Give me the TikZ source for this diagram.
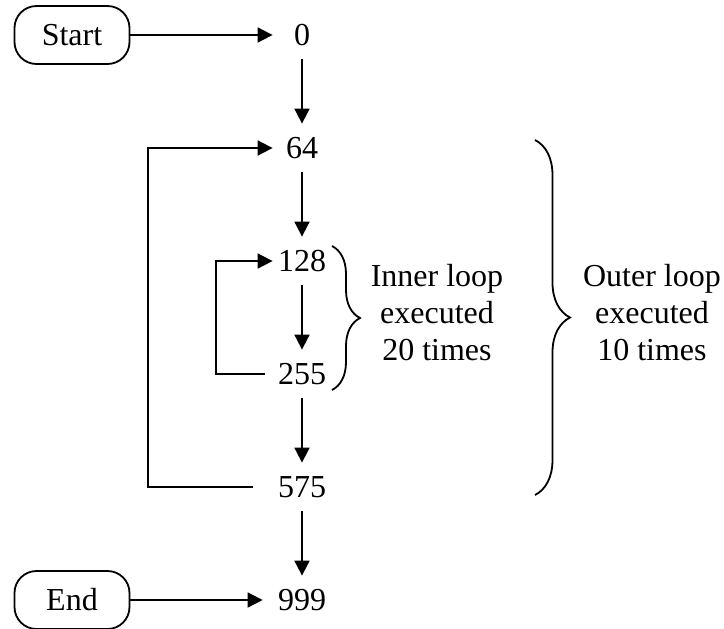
\documentclass[tikz,border=0pt]{standalone}
\usepackage{fontspec}
\setmainfont{Liberation Serif}
\usetikzlibrary{positioning,arrows.meta,decorations.pathreplacing}

\begin{document}
\begin{tikzpicture}[
         x=0.5pt, y=-0.5pt, on grid,
         font=\fontsize{16}{18.5}\selectfont,
         terminal/.style = {draw, line width=0.9pt, rounded corners=11pt,
            minimum width=57.5pt, minimum height=29pt},
         addr/.style = {minimum width=29pt, minimum height=24pt, inner sep=0pt},
         flow/.style = {line width=0.9pt, -{Triangle[length=7.5pt,width=7.5pt]}},
         loopbrace/.style = {line width=0.9pt, decorate,
            decoration={brace,amplitude=#1}},
         note/.style = {align=center}
]
      \useasboundingbox (0,0) rectangle (724,628);

      % start and end of the program
      \node[terminal] (start) at (72,35)  {Start};
      \node[terminal] (end)   at (72,600) {End};

      % addresses, one below the other
      \node[addr]                     (n0)   at (302,35) {0};
      \node[addr, below=56.5pt of n0]   (n64)  {64};
      \node[addr, below=56.5pt of n64]  (n128) {128};
      \node[addr, below=56.5pt of n128] (n255) {255};
      \node[addr, below=56.5pt of n255] (n575) {575};
      \node[addr, below=56.5pt of n575] (n999) {999};

      \draw[flow] (start) -- (n0);
      \draw[flow, shorten >=5pt] (end) -- (n999);

      \draw[flow] (n0)   -- (n64);
      \draw[flow] (n64)  -- (n128);
      \draw[flow] (n128) -- (n255);
      \draw[flow] (n255) -- (n575);
      \draw[flow] (n575) -- (n999);

      % inner loop back edge
      \draw[flow, shorten <=4pt] (n255.west) -- ++(-57,0) |- (n128.west);
      % outer loop back edge
      \draw[flow, shorten <=10pt] (n575.west) -- ++(-125,0) |- (n64.west);

      % braces with their notes
      \draw[loopbrace=14pt] (332,246) -- (332,390);
      \node[note] (innertxt) at (437,313) {Inner loop\\executed\\20 times};

      \draw[loopbrace=17.5pt] (535,140) -- (535,495);
      \node[note] (outertxt) at (652,313) {Outer loop\\executed\\10 times};

\end{tikzpicture}
\end{document}
